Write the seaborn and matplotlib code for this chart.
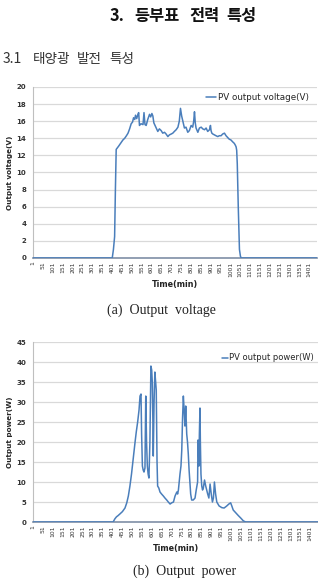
import numpy as np
import pandas as pd
import matplotlib
matplotlib.use('Agg')
import matplotlib.pyplot as plt
import seaborn as sns

# PV output voltage (V), minute of day -> value
volt_time = [1, 402, 408, 414, 418, 422, 435, 447, 456, 465, 474, 482, 490, 498, 505, 510, 516,
             520, 526, 532, 536, 540, 548, 558, 563, 568, 574, 582, 591, 597, 603, 608, 613,
             619, 625, 633, 641, 650, 658, 667, 675, 684, 692, 701, 709, 717, 726, 735, 742,
             748, 754, 760, 768, 776, 785, 793, 802, 810, 815, 819, 823, 827, 836, 844, 853,
             861, 870, 878, 886, 895, 900, 903, 907, 912, 920, 928, 937, 945, 954, 962, 971,
             979, 987, 995, 1004, 1012, 1021, 1026, 1030, 1033, 1036, 1041, 1047, 1052, 1056, 1440]
volt_vals = [0, 0, 1.0, 2.5, 8.0, 12.7, 13.1, 13.5, 13.8, 14.0, 14.3, 14.6, 15.1, 15.7, 15.9, 16.4, 16.2,
             16.7, 16.3, 16.8, 17.0, 15.5, 15.7, 15.6, 17.0, 15.6, 15.5, 16.2, 16.8, 16.5, 16.9, 16.6, 15.8,
             15.5, 15.2, 14.8, 15.1, 14.9, 14.6, 14.7, 14.5, 14.2, 14.4, 14.5, 14.6, 14.8, 15.0, 15.3, 16.0,
             17.5, 16.6, 16.0, 15.2, 15.3, 14.7, 14.9, 15.5, 15.3, 16.0, 17.1, 15.8, 15.2, 14.7, 15.2, 15.3,
             15.1, 15.0, 15.2, 14.8, 15.0, 15.5, 14.9, 14.6, 14.5, 14.4, 14.3, 14.2, 14.3, 14.3, 14.5, 14.6,
             14.3, 14.1, 13.9, 13.8, 13.6, 13.4, 13.2, 13.0, 12.6, 11.0, 6.0, 1.0, 0.2, 0, 0]

# PV output power (W)
pow_time = [1, 405, 414, 422, 430, 439, 452, 465, 474, 482, 490, 498, 507, 516, 522, 529, 536,
            541, 546, 549, 553, 557, 561, 566, 570, 574, 578, 582, 586, 591, 596, 600, 603,
            606, 608, 612, 616, 620, 623, 627, 630, 636, 642, 650, 659, 667, 676, 684, 693,
            701, 710, 718, 727, 731, 735, 739, 743, 748, 752, 756, 760, 764, 768, 772, 777,
            781, 785, 789, 793, 797, 802, 810, 819, 825, 832, 834, 836, 839, 841, 844, 846,
            849, 853, 857, 861, 867, 873, 878, 883, 889, 895, 901, 907, 912, 917, 923, 929,
            935, 941, 948, 954, 966, 979, 990, 999, 1005, 1012, 1025, 1038, 1050, 1063, 1075, 1440]
pow_vals = [0, 0, 0.8, 1.3, 1.6, 2.0, 2.6, 3.5, 4.8, 6.5, 9.0, 12.0, 16.0, 20.0, 22.5, 25.0, 28.0,
            31.5, 32.0, 22.0, 14.0, 13.0, 12.5, 13.5, 31.5, 20.0, 14.0, 12.0, 11.0, 20.0, 39.0, 38.0, 35.0,
            25.0, 16.5, 30.0, 37.5, 35.0, 33.0, 15.0, 9.0, 8.5, 7.5, 7.0, 6.5, 6.0, 5.5, 5.0, 4.5,
            4.8, 5.0, 6.5, 7.5, 7.0, 8.0, 10.0, 12.0, 14.0, 18.0, 26.0, 31.5, 28.0, 24.0, 29.0, 22.0,
            20.0, 17.0, 13.0, 10.0, 7.0, 5.5, 5.5, 6.0, 8.0, 10.0, 20.5, 19.0, 14.0, 22.0, 28.5, 20.0,
            12.0, 9.0, 8.0, 8.5, 10.5, 9.0, 8.0, 7.0, 6.0, 9.5, 7.0, 5.0, 6.0, 10.0, 7.0, 5.0,
            4.5, 4.0, 3.8, 3.6, 3.5, 4.0, 4.5, 4.8, 4.0, 3.0, 2.3, 1.6, 1.0, 0.3, 0, 0]

x_ticks = [1, 51, 101, 151, 201, 251, 301, 351, 401, 451, 501, 551, 601, 651, 701,
           751, 801, 851, 901, 951, 1001, 1051, 1101, 1151, 1201, 1251, 1301, 1351, 1401]

volt_df = pd.DataFrame({'time': volt_time, 'value': volt_vals})
pow_df = pd.DataFrame({'time': pow_time, 'value': pow_vals})

sns.set_style('white')
plt.rcParams['font.family'] = ['DejaVu Sans', 'Noto Sans CJK KR']

LINE = '#4a7ebb'
GRID = '#d9d9d9'
KR = ['Noto Sans CJK KR', 'DejaVu Sans']
W, H = 318, 583

fig = plt.figure(figsize=(3.18, 5.83), dpi=100)

# section heading, words spread as in the scanned page
for word, px in [('3.', 110), ('등부표', 134), ('전력', 189), ('특성', 226)]:
    fig.text(px / W, 1 - 16 / H, word, ha='left', va='center', fontsize=11.8,
             fontweight='bold', family=KR, color='#111111')
for word, px, fs in [('3.1', 3, 10), ('태양광', 33, 9.8), ('발전', 77, 9.8), ('특성', 109, 9.8)]:
    fig.text(px / W, 1 - 59 / H, word, ha='left', va='center', fontsize=fs,
             family=KR, color='#333333')


def draw_panel(ax, df, ymax, step, ylabel, caption, caption_x, caption_y):
    sns.lineplot(data=df, x='time', y='value', ax=ax, color=LINE, lw=1.1, zorder=3)
    ax.set_xlim(0.5, 1440.5)
    ax.set_ylim(0, ymax)
    ax.set_yticks(np.arange(0, ymax + 1, step))
    ax.set_xticks(x_ticks)
    ax.set_xticklabels([str(t) for t in x_ticks], rotation=90, fontsize=4.3, color='#333333')
    ax.tick_params(axis='y', labelsize=5, colors='#333333', length=0, pad=5)
    ax.tick_params(axis='x', length=0, pad=2.5)
    for lbl in ax.get_yticklabels():
        lbl.set_fontweight('bold')
    ax.grid(axis='y', color=GRID, lw=0.9)
    for s in ['top', 'right']:
        ax.spines[s].set_visible(False)
    ax.spines['left'].set_color('#bfbfbf')
    ax.spines['left'].set_linewidth(0.8)
    ax.spines['bottom'].set_color('#7f8fa6')
    ax.spines['bottom'].set_linewidth(1.2)
    ax.set_ylabel(ylabel, fontsize=5.2, fontweight='bold', labelpad=2)
    ax.set_xlabel('Time(min)', fontsize=5.8, fontweight='bold', labelpad=2, color='#222222')
    fig.text(caption_x, caption_y, caption, ha='center', va='center', fontsize=10,
             family='Liberation Serif', color='#222222')


ax1 = fig.add_axes([0.104, 0.5575, 0.893, 0.2933])
draw_panel(ax1, volt_df, 20, 2, 'Output voltage(V)',
           '(a)  Output  voltage', 161 / W, 1 - 310 / H)
ax1.legend(['PV output voltage(V)'], loc='upper right', fontsize=6.3, frameon=False,
           handlelength=1.1, handletextpad=0.25, borderaxespad=0.0, bbox_to_anchor=(0.985, 0.985))

ax2 = fig.add_axes([0.104, 0.1046, 0.896, 0.3087])
draw_panel(ax2, pow_df, 45, 5, 'Output power(W)',
           '(b)  Output  power', 185 / W, 1 - 571 / H)
ax2.legend(['PV output power(W)'], loc='upper right', fontsize=6.0, frameon=False,
           handlelength=0.7, handletextpad=0.15, borderaxespad=0.0, bbox_to_anchor=(0.998, 0.955))

fig.savefig('out.png', dpi=100)
